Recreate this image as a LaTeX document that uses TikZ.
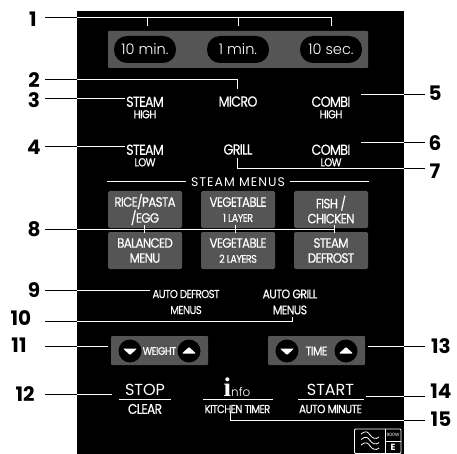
\documentclass[tikz,border=0pt]{standalone}
\usepackage{fontspec}
\setmainfont{Poppins}
\newfontfamily\thinfont{Poppins Light}
\newfontfamily\tightfont{Poppins}[LetterSpace=-5,FakeStretch=0.88,FakeBold=0.25]
\newfontfamily\infofont{Liberation Serif}
\newcommand{\leader}[1]{%
  \draw[lead] #1;
  \begin{scope}
    \clip (77,11) rectangle (404,454);
    \draw[leadw] #1;
  \end{scope}}
\newcommand{\tworow}[2]{#1\\[-3pt]{\fontsize{11.5}{11}\selectfont #2}}
\begin{document}
\begin{tikzpicture}[x=1pt,y=-1pt,
  num/.style={font=\fontsize{20}{20}\selectfont\bfseries, text=black, inner sep=0pt},
  lab/.style={font=\tightfont\fontsize{14.5}{14.5}\selectfont, text=white, align=center, inner sep=0pt},
  pill/.style={rectangle, rounded corners=13pt, fill=black, minimum width=62pt, minimum height=27pt,
    inner sep=0pt, text=white, font=\thinfont\fontsize{14.5}{15}\selectfont},
  menubox/.style={rectangle, fill=btngray, rounded corners=1.5pt, minimum width=74pt, minimum height=37pt,
    inner sep=0pt, text=white, align=center, font=\tightfont\fontsize{13.5}{15}\selectfont},
  stepper/.style={rectangle, fill=btngray, rounded corners=1pt, minimum width=97pt, minimum height=29pt, inner sep=0pt},
  knob/.style={circle, fill=black, minimum size=23pt, inner sep=0pt},
  lead/.style={black, line width=0.8pt},
  leadw/.style={white, line width=0.8pt},
  rule/.style={white, line width=0.7pt}
]
\definecolor{btngray}{HTML}{555555}
\useasboundingbox (0,0) rectangle (457,454);
\fill[black] (77,11) rectangle (404,454);
% timer keys
\fill[btngray, rounded corners=1pt] (108,31) rectangle (368,68);
\node[pill] (tenmin) at (145,49.5) {10 min.};
\node[pill] (onemin) at (238,49.5) {1 min.};
\node[pill] (tensec) at (331,49.5) {10 sec.};
% cooking modes
\node[lab] (steamhigh) at (145,107.5) {\tworow{STEAM}{HIGH}};
\node[lab] (micro) at (238,101.5) {MICRO};
\node[lab] (combihigh) at (331,107.5) {\tworow{COMBI}{HIGH}};
\node[lab] (steamlow) at (145,155.5) {\tworow{STEAM}{LOW}};
\node[lab] (grill) at (238,149.5) {GRILL};
\node[lab] (combilow) at (331,155.5) {\tworow{COMBI}{LOW}};
% steam menus
\node[font=\fontsize{12.5}{12}\selectfont, text=white, inner sep=0pt] (steamtitle) at (238,182) {\addfontfeature{LetterSpace=8}STEAM MENUS};
\coordinate (titleL) at (107,182);
\coordinate (titleR) at (369,182);
\draw[white, line width=1pt] (titleL) -- ([xshift=-5pt]steamtitle.west);
\draw[white, line width=1pt] ([xshift=5pt]steamtitle.east) -- (titleR);
\node[menubox] (rice) at (145,209.5) {RICE/PASTA\\/EGG};
\node[menubox] (vegone) at (238,209.5) {VEGETABLE\\{\fontsize{11}{11}\selectfont 1 LAYER}};
\node[menubox] (fish) at (331,209.5) {FISH /\\CHICKEN};
\node[menubox] (balanced) at (145,250.5) {BALANCED\\MENU};
\node[menubox] (vegtwo) at (238,250.5) {VEGETABLE\\{\fontsize{11}{11}\selectfont 2 LAYERS}};
\node[menubox] (defrost) at (331,250.5) {STEAM\\DEFROST};
% auto menus
\node[lab, font=\tightfont\fontsize{11.5}{16}\selectfont] (autodefrost) at (186,302) {AUTO DEFROST\\MENUS};
\node[lab, font=\tightfont\fontsize{12.5}{16}\selectfont] (autogrill) at (290,302) {AUTO GRILL\\MENUS};
% steppers
\node[stepper] (weight) at (159.5,350.5) {};
\node[stepper] (timebar) at (316.5,350.5) {};
\node[knob] (wdown) at (130,351) {};
\node[knob] (wup) at (189,351) {};
\node[knob] (tdown) at (287,351) {};
\node[knob] (tup) at (346,351) {};
\node[font=\tightfont\fontsize{11}{11}\selectfont, text=white, inner sep=0pt] (weighttxt) at (159.5,351) {WEIGHT};
\node[font=\tightfont\fontsize{12.5}{12}\selectfont, text=white, inner sep=0pt] (timetxt) at (316.5,351) {TIME};
\foreach \k in {wdown,tdown}
  \fill[white, rounded corners=0.8pt] ([xshift=-7pt,yshift=2.5pt]\k.center) -- ([xshift=7pt,yshift=2.5pt]\k.center) -- ([yshift=-4pt]\k.center) -- cycle;
\foreach \k in {wup,tup}
  \fill[white, rounded corners=0.8pt] ([xshift=-7pt,yshift=-2.5pt]\k.center) -- ([xshift=7pt,yshift=-2.5pt]\k.center) -- ([yshift=4pt]\k.center) -- cycle;
% bottom keys
\node[text=white, font=\fontsize{16}{16}\selectfont, inner sep=0pt] (stopkey) at (145,389.5) {STOP};
\node[text=white, font=\tightfont\fontsize{14}{14}\selectfont, inner sep=0pt] (clearkey) at (145,409) {CLEAR};
\node[text=white, inner sep=0pt, anchor=base] (infokey) at (237,396) {{\infofont\bfseries\fontsize{27}{27}\selectfont i}{\thinfont\fontsize{12}{12}\selectfont nfo}};
\node[text=white, font=\tightfont\fontsize{11.5}{12}\selectfont, inner sep=0pt] (kitchen) at (237.5,409) {KITCHEN TIMER};
\node[text=white, font=\fontsize{16}{16}\selectfont, inner sep=0pt] (startkey) at (330.5,389.5) {START};
\node[text=white, font=\tightfont\fontsize{12}{12}\selectfont, inner sep=0pt] (automin) at (330.5,409) {AUTO MINUTE};
\draw[rule] (119,399.5) -- (171,399.5);
\draw[rule] (203,399.5) -- (273,399.5);
\draw[rule] (298,399.5) -- (364,399.5);
% power icon
\draw[white, line width=0.8pt, rounded corners=1pt] (354.5,429) rectangle (401,453.5);
\draw[white, line width=0.8pt] (385,429) -- (385,453.5) (385,441) -- (401,441);
\foreach \w in {434,439.5,445}
  \draw[white, line width=0.8pt] (361,\w) .. controls (366,\w-4) and (368,\w-2) .. (370,\w+1) .. controls (372,\w+4) and (376,\w+6) .. (379,\w+3);
\node[text=white, font=\fontsize{4.5}{4}\selectfont, inner sep=0pt] (wattage) at (393,435) {900W};
\node[text=white, font=\fontsize{9}{8}\selectfont\bfseries, inner sep=0pt] (ecat) at (393,447.5) {E};
% callouts
\node[num] (n1) at (33,19) {1};
\node[num] (n2) at (34,80) {2};
\node[num] (n3) at (34,100) {3};
\node[num] (n4) at (34,147) {4};
\node[num] (n5) at (435,93) {5};
\node[num] (n6) at (435,143) {6};
\node[num] (n7) at (435,171) {7};
\node[num] (n8) at (34,229) {8};
\node[num] (n9) at (34,290) {9};
\node[num] (n10) at (21,318) {10};
\node[num] (n11) at (19,345) {11};
\node[num] (n12) at (25,394) {12};
\node[num] (n13) at (441,346) {13};
\node[num] (n14) at (441,391) {14};
\node[num] (n15) at (441,419) {15};
% ends of the leaders
\foreach \c/\x/\y in {a1/45/17.5,a2/45/79.5,a3/45/98.5,a4/45/146,a5/425/94.5,a6/425/142.5,a7/425/168,
    a8/45/229.5,a9/45/290,a10/45/321,a11/45/346,a12/45/394,a13/425/346,a14/425/396,a15/425/420,
    b1/331/26,b1m/238/26,b1l/147/26,b2/237/89,b3/125/98.5,b4/125/146,b5/361/94.5,b6/361/142.5,b7/237/158,
    b8/334/229.5,b9/150/290,b10/292/317,b11/108/346,b12/112/394,b13/368/346,b14/366/396,b15/230/411}
  \coordinate (\c) at (\x,\y);
\leader{(a1) -| (b1)}
\leader{(a1 -| b1l) -- (b1l)}
\leader{(a1 -| b1m) -- (b1m)}
\leader{(a2) -| (b2)}
\leader{(a3) -- (b3)}
\leader{(a4) -- (b4)}
\leader{(a5) -- (b5)}
\leader{(a6) -- (b6)}
\leader{(a7) -| (b7)}
\leader{(a8) -- (b8)}
\foreach \t in {144,235,334} {
  \leader{(\t,225) -- (\t,233)}
}
\leader{(a9) -- (b9)}
\leader{(a10) -| (b10)}
\leader{(a11) -- (b11)}
\leader{(a12) -- (b12)}
\leader{(a13) -- (b13)}
\leader{(a14) -- (b14)}
\leader{(a15) -| (b15)}
\end{tikzpicture}
\end{document}
